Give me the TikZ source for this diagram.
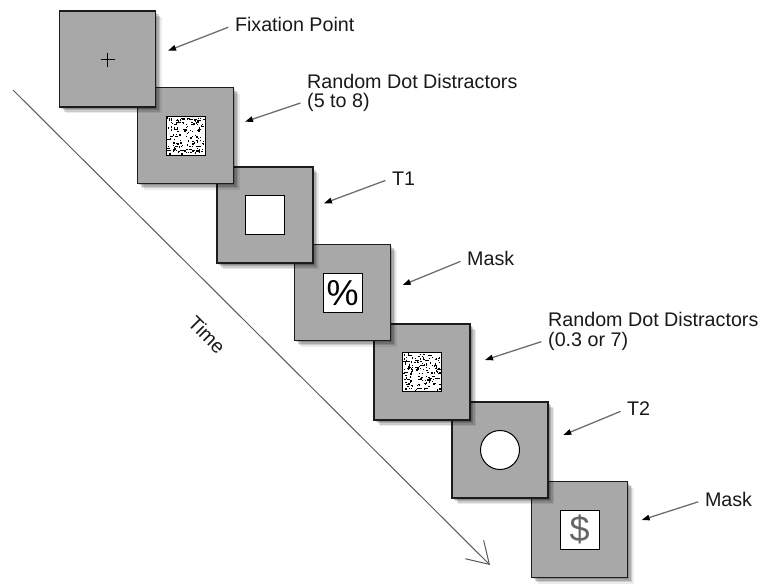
\documentclass[tikz,border=0pt]{standalone}
\usepackage{fontspec}
\setmainfont{Liberation Sans}
\usetikzlibrary{arrows.meta,shadows,calc}
\definecolor{framefill}{RGB}{168,168,168}
\definecolor{framebd}{RGB}{28,28,28}
\definecolor{ptrline}{RGB}{110,110,110}
\definecolor{timeline}{RGB}{90,90,90}
\definecolor{txt}{RGB}{25,25,25}
\newcommand\dotpatch[2]{%
  \begin{scope}[shift={(#1)}]
    \pgfmathsetseed{#2}
    \foreach \k in {1,...,150}{
      \pgfmathsetmacro\rx{rnd*36.6-19}
      \pgfmathsetmacro\ry{rnd*36.6-19}
      \fill[black] (\rx,\ry) rectangle ++(1.3,1.3);
    }
    \foreach \k in {1,...,18}{
      \pgfmathsetmacro\rx{rnd*33.5-19}
      \pgfmathsetmacro\ry{rnd*37-19}
      \fill[black] (\rx,\ry) rectangle ++(3.5,1);
    }
  \end{scope}}
\begin{document}
\begin{tikzpicture}[x=1pt,y=-1pt,
  frame/.style={rectangle, draw=framebd, fill=framefill, line width=1.5pt,
    minimum size=96pt, inner sep=0pt,
    drop shadow={shadow xshift=1.5pt,shadow yshift=-1.5pt,opacity=.17,fill=black},
    drop shadow={shadow xshift=3pt,shadow yshift=-3pt,opacity=.16,fill=black},
    drop shadow={shadow xshift=4.5pt,shadow yshift=-4.5pt,opacity=.13,fill=black},
    drop shadow={shadow xshift=6pt,shadow yshift=-6pt,opacity=.08,fill=black}},
  innerbox/.style={rectangle, draw=black, fill=white, line width=1pt,
    minimum size=39pt, inner sep=0pt},
  label/.style={anchor=base west, inner sep=0pt, text=txt,
    font=\fontsize{19.7}{20}\selectfont, text height=14pt, text depth=0pt},
  ptr/.style={draw=ptrline, line width=1.3pt, shorten <=7pt,
    -{Triangle[length=8pt,width=5.5pt,color=black]}},
  bigglyph/.style={font=\fontsize{36}{36}\selectfont}
]
\useasboundingbox (0,0) rectangle (762,583);
\fill[white] (0,0) rectangle (762,583);

% time axis
\coordinate (tstart) at (13,90);
\coordinate (tend) at (490,565);
\draw[timeline, line width=1pt, -{Straight Barb[length=21pt,width=26pt,line width=1pt]}] (tstart) -- (tend);
\node[rotate=-45, text=txt, font=\fontsize{19.7}{20}\selectfont] (time) at (207,335) {Time};

% frames, last first so that earlier frames lie on top
\node[frame] (f7) at (579.7,529.7) {};
\node[frame] (f6) at (500,450) {};
\node[frame] (f5) at (422,372) {};
\node[frame] (f4) at (342.7,292.7) {};
\node[frame] (f3) at (264.8,215) {};
\node[frame] (f2) at (185.7,135.7) {};
\node[frame] (f1) at (107.5,59.2) {};

% contents
\draw[black, line width=1.1pt] ($(f1)+(-7,0.5)$) -- ($(f1)+(7,0.5)$);
\draw[black, line width=1.1pt] ($(f1)+(0,-6.5)$) -- ($(f1)+(0,7.5)$);
\node[innerbox] (c2) at (f2) {};
\dotpatch{f2}{17}
\node[innerbox] (c3) at (f3) {};
\node[innerbox, bigglyph] (c4) at (f4) {\%};
\node[innerbox] (c5) at (f5) {};
\dotpatch{f5}{42}
\node[circle, draw=black, fill=white, line width=1pt, minimum size=39pt, inner sep=0pt] (c6) at (f6) {};
\node[innerbox, bigglyph, text=black!60] (c7) at (f7) {\$};

% labels
\node[label] (l1) at (234.8,31.7) {Fixation Point};
\node[label] (l2a) at (307,88.3) {Random Dot Distractors};
\node[label] (l2b) at (307,107.8) {(5 to 8)};
\node[label] (l3) at (392,185) {T1};
\node[label] (l4) at (467,265.7) {Mask};
\node[label] (l5a) at (548,326.7) {Random Dot Distractors};
\node[label] (l5b) at (548,346.5) {(0.3 or 7)};
\node[label] (l6) at (627,415.7) {T2};
\node[label] (l7) at (704.8,506.7) {Mask};

% pointers
\coordinate (p1) at (168,50.7);
\coordinate (p2) at (245,121.7);
\coordinate (p3) at (324,203.3);
\coordinate (p4) at (402.7,285);
\coordinate (p5) at (485,360);
\coordinate (p6) at (563.3,435);
\coordinate (p7) at (641.7,520);
\draw[ptr] (l1.west) -- (p1);
\draw[ptr] (l2b.west) -- (p2);
\draw[ptr] (l3.west) -- (p3);
\draw[ptr] (l4.west) -- (p4);
\draw[ptr] (l5b.west) -- (p5);
\draw[ptr] (l6.west) -- (p6);
\draw[ptr] (l7.west) -- (p7);
\end{tikzpicture}
\end{document}
